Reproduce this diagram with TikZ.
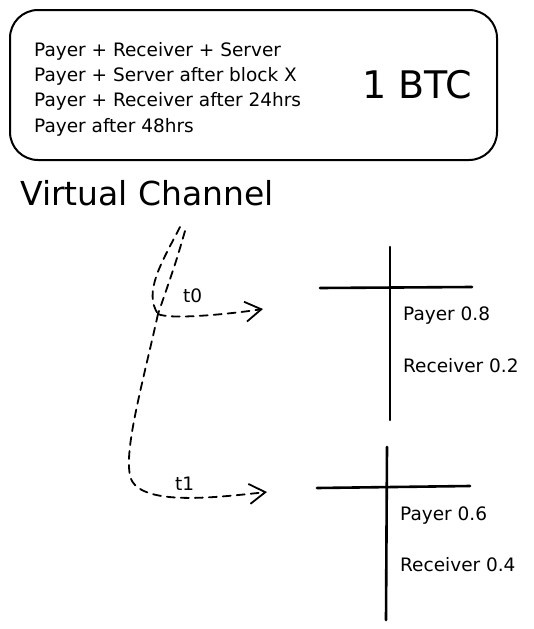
\documentclass[tikz,border=0pt]{standalone}
\usepackage{fontspec}
\setmainfont{DejaVu Sans}
\usetikzlibrary{arrows.meta}
\begin{document}
\begin{tikzpicture}[x=1pt,y=-1pt,
  txt/.style={anchor=west,inner sep=0pt,font=\fontsize{18.5}{22}\selectfont},
  dashline/.style={line width=1.8pt,dash pattern=on 8pt off 6pt,line cap=round},
  arr/.style={dashline,-{Straight Barb[length=16pt,width=20pt,line width=1.8pt]}},
  acct/.style={line width=2.6pt,line cap=round}]
\useasboundingbox (0,0) rectangle (534,629);
% policy box
\node[draw,line width=2pt,rounded corners=28pt,minimum width=487pt,minimum height=150pt,inner sep=0pt] (box) at (253.5,85) {};
\node[txt] (l1) at (34,51) {Payer + Receiver + Server};
\node[txt] (l2) at (34,76) {Payer + Server after block X};
\node[txt] (l3) at (34,101) {Payer + Receiver after 24hrs};
\node[txt] (l4) at (34,127) {Payer after 48hrs};
\node[anchor=west,inner sep=0pt,font=\fontsize{38}{44}\selectfont] (btc) at (362,85) {1 BTC};
\node[anchor=west,inner sep=0pt,font=\fontsize{33}{38}\selectfont] (title) at (20,193) {Virtual Channel};
% channel path
\coordinate (topa) at (180,227);
\coordinate (topb) at (185,231);
\coordinate (j) at (158,314);
\coordinate (tip0) at (263,309);
\coordinate (tip1) at (267,492);
\draw[dashline] (topa) .. controls (162,262) and (143,292) .. (j);
\draw[dashline] (topb) .. controls (176,262) .. (j);
\draw[arr] (j) .. controls (170,320) and (230,314) .. (tip0);
\draw[arr] (j) .. controls (140,395) and (118,470) .. (135,485) .. controls (155,505) and (220,497) .. (tip1);
\node[txt] (t0) at (183,296) {t0};
\node[txt] (t1) at (175,484) {t1};
% account t0
\coordinate (a0t) at (390,247);
\coordinate (a0b) at (390,420);
\coordinate (a0l) at (320,288);
\coordinate (a0r) at (472,287);
\draw[acct] (a0t) -- (a0b);
\draw[acct] (a0l) -- (a0r);
\node[txt] (p0) at (403,316) {Payer 0.8};
\node[txt] (r0) at (403,366) {Receiver 0.2};
% account t1
\coordinate (a1t) at (387,447);
\coordinate (a1b) at (386,620);
\coordinate (a1l) at (317,488);
\coordinate (a1r) at (470,486);
\draw[acct] (a1t) -- (a1b);
\draw[acct] (a1l) -- (a1r);
\node[txt] (p1) at (400,516) {Payer 0.6};
\node[txt] (r1) at (400,565) {Receiver 0.4};
\end{tikzpicture}
\end{document}
